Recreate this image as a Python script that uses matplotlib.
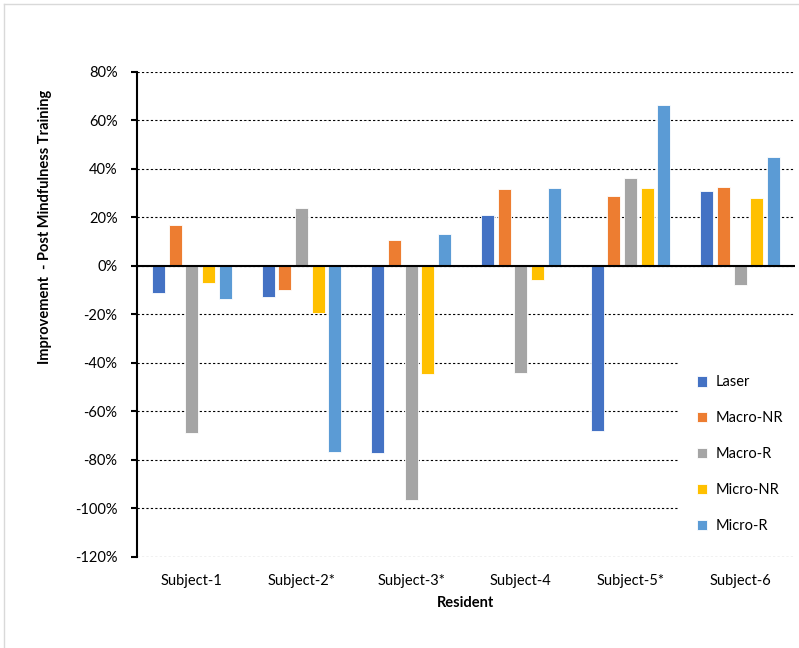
import numpy as np
import matplotlib.pyplot as plt
from matplotlib.lines import Line2D
from matplotlib.ticker import PercentFormatter

plt.rcParams['font.family'] = ['Lato', 'DejaVu Sans']
plt.rcParams['axes.unicode_minus'] = False

# data (percent improvement)
subjects = ['Subject-1', 'Subject-2*', 'Subject-3*', 'Subject-4', 'Subject-5*', 'Subject-6']
series_names = ['Laser', 'Macro-NR', 'Macro-R', 'Micro-NR', 'Micro-R']
laser = [-11, -13, -77, 21, -68, 30.7]
macro_nr = [17, -10, 10.6, 31.5, 28.7, 32.6]
macro_r = [-69, 24, -96.6, -44, 36.3, -8]
micro_nr = [-7, -19.5, -44.4, -6, 32, 28]
micro_r = [-13.5, -76.6, 13, 32, 66.1, 45]
colors = ['#4472C4', '#ED7D31', '#A5A5A5', '#FFC000', '#5B9BD5']

W, H = 799, 648
fig = plt.figure(figsize=(W / 100, H / 100), dpi=100)
ax = fig.add_axes([137 / W, 1 - 557 / H, (795 - 137) / W, (557 - 71.7) / H])

# light outer frame of the chart area
fig.add_artist(Line2D([4 / W, 4 / W], [0, 1 - 4 / H], color='#d9d9d9', lw=1))
fig.add_artist(Line2D([4 / W, 1], [1 - 4 / H, 1 - 4 / H], color='#d9d9d9', lw=1))

x = np.arange(len(subjects))
pitch = 0.152
width = 0.12
all_series = [laser, macro_nr, macro_r, micro_nr, micro_r]
for i, (name, vals) in enumerate(zip(series_names, all_series)):
    ax.bar(x + (i - 2) * pitch, vals, width, color=colors[i], label=name,
           edgecolor='white', linewidth=0.6, zorder=3)

ax.set_xlim(-0.5, len(subjects) - 0.5)
ax.set_ylim(-120, 80)
ax.set_yticks(np.arange(-120, 81, 20))
ax.yaxis.set_major_formatter(PercentFormatter(decimals=0))
ax.yaxis.grid(True, linestyle=(0, (2, 2)), color='black', linewidth=0.8, zorder=0)
ax.axhline(0, color='black', linewidth=1.5, zorder=4)

for s in ['top', 'right', 'bottom']:
    ax.spines[s].set_visible(False)
ax.spines['left'].set_linewidth(1.5)
ax.tick_params(axis='y', direction='out', length=4, width=1.5, labelsize=10.5, pad=10)
ax.tick_params(axis='x', length=0, labelsize=10.5, pad=12)
ax.set_xticks(x)
ax.set_xticklabels(subjects)

ax.set_xlabel('Resident', fontsize=10.5, fontweight='bold', labelpad=6)
fig.text(45 / W, 1 - 227 / H, 'Improvement  - Post Mindfulness Training',
         rotation=90, ha='center', va='center', fontsize=10.5, fontweight='bold')

leg = ax.legend(loc='upper left', bbox_to_anchor=(679 / W, 1 - 358 / H),
                bbox_transform=fig.transFigure, frameon=True, fancybox=False,
                edgecolor='none', facecolor='white', framealpha=1,
                fontsize=10.5, handlelength=0.7, handleheight=0.7,
                labelspacing=1.5, borderpad=1.2, handletextpad=0.6,
                borderaxespad=0)
leg.set_zorder(5)

fig.savefig('out.png', dpi=100)
